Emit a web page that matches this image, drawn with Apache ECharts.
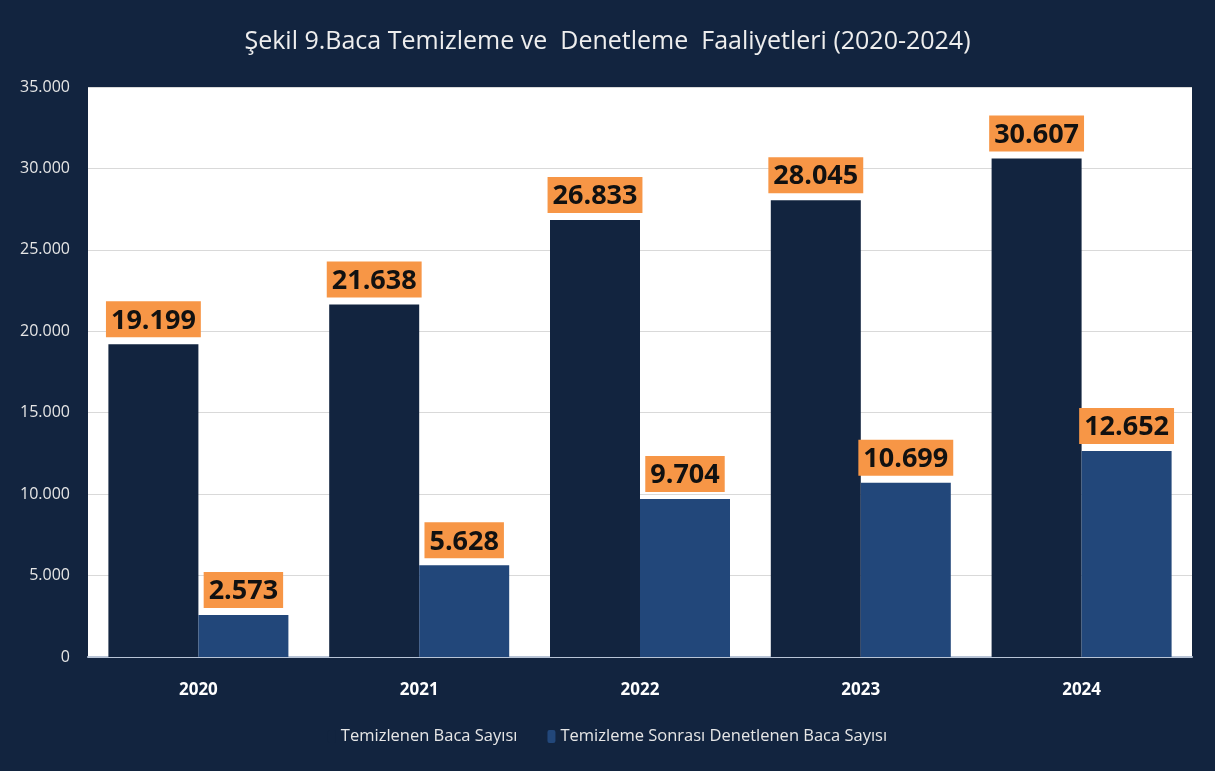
<!DOCTYPE html>
<html>
<head>
<meta charset="utf-8">
<script src="https://cdn.jsdelivr.net/npm/echarts@6/dist/echarts.min.js"></script>
<style>
  html, body { margin: 0; padding: 0; background: #12243f; }
  #chart { width: 1215px; height: 771px; }
</style>
</head>
<body>
<div id="chart"></div>
<script>
var years = ['2020', '2021', '2022', '2023', '2024']
var cleaned = [19199, 21638, 26833, 28045, 30607]
var inspected = [2573, 5628, 9704, 10699, 12652]
var seriesNames = ['Temizlenen Baca Sayısı', 'Temizleme Sonrası Denetlenen Baca Sayısı']

function fmt(v) {
    return String(v).replace(/\B(?=(\d{3})+(?!\d))/g, '.')
}

var labelStyle = {
    show: true,
    position: 'top',
    distance: 7,
    formatter: function (p) { return fmt(p.value) },
    backgroundColor: '#f79646',
    color: '#111111',
    fontFamily: 'Open Sans',
    fontWeight: 'bold',
    fontSize: 27,
    padding: [6, 5, 3, 5]
}

var chart = echarts.init(document.getElementById('chart'))
var option = {
    backgroundColor: '#12243f',
    title: {
        text: 'Şekil 9.Baca Temizleme ve  Denetleme  Faaliyetleri (2020-2024)',
        left: 'center',
        top: 24,
        textStyle: { color: '#eeeeee', fontFamily: 'Open Sans', fontWeight: 'normal', fontSize: 25 }
    },
    legend: {
        bottom: 21,
        left: 'center',
        itemWidth: 8,
        itemHeight: 13,
        itemGap: 30,
        textStyle: { color: '#e6e6e6', fontFamily: 'Open Sans', fontSize: 16.5 },
        data: seriesNames
    },
    grid: {
        left: 88, right: 23, top: 87, bottom: 114,
        show: true, backgroundColor: '#ffffff', borderWidth: 0
    },
    xAxis: {
        type: 'category',
        data: years,
        axisTick: { show: false },
        axisLine: { lineStyle: { color: '#b8c4d6', width: 2 } },
        axisLabel: { color: '#ffffff', fontFamily: 'Open Sans', fontWeight: 'bold', fontSize: 17, margin: 25 }
    },
    yAxis: {
        type: 'value',
        min: 0, max: 35000, interval: 5000,
        axisLine: { show: false },
        axisTick: { show: false },
        splitLine: { lineStyle: { color: '#d9d9d9' } },
        axisLabel: { color: '#e6e6e6', fontFamily: 'Open Sans', fontSize: 16, margin: 18, formatter: fmt }
    },
    series: [
        {
            name: seriesNames[0], type: 'bar', data: cleaned,
            barWidth: 90, barGap: '0%',
            itemStyle: { color: '#12243f' },
            label: labelStyle
        },
        {
            name: seriesNames[1], type: 'bar', data: inspected,
            barWidth: 90,
            itemStyle: { color: '#22477a' },
            label: labelStyle
        }
    ]
}
chart.setOption(option)
</script>
</body>
</html>
